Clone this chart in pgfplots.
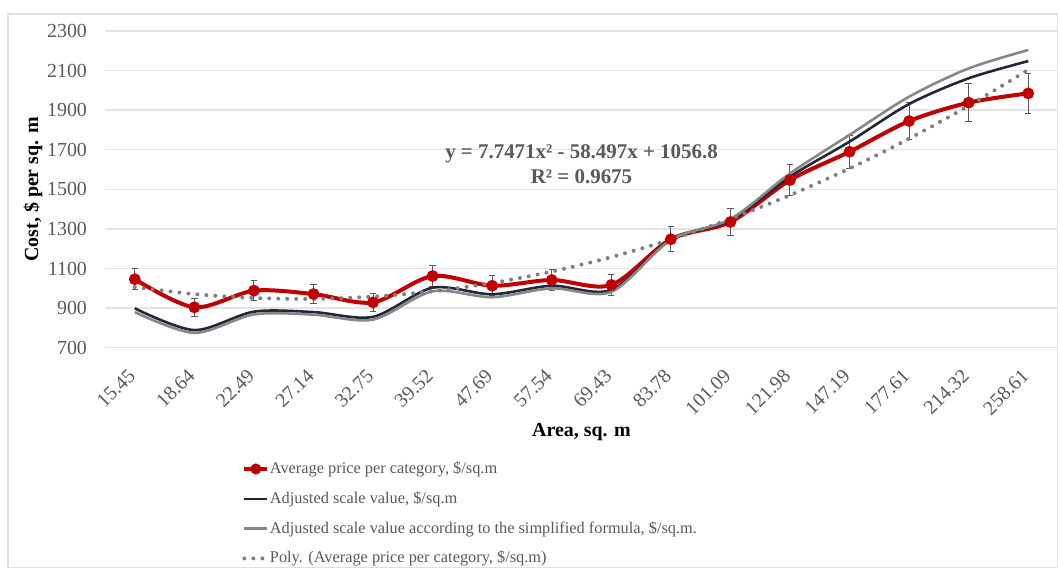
\documentclass[border=0pt]{standalone}
\usepackage{fontspec}
\setmainfont{Liberation Serif}
\usepackage{pgfplots}
\pgfplotsset{compat=1.18}
\definecolor{txt}{HTML}{595959}
\definecolor{gridc}{HTML}{E3E3E3}
\definecolor{redc}{HTML}{C00000}
\definecolor{navy}{HTML}{1E2838}
\definecolor{grayc}{HTML}{878787}
\definecolor{dotc}{HTML}{7F7F7F}
\definecolor{framec}{HTML}{E0E0E0}
\begin{document}
\fontsize{10}{12}\selectfont
\begin{tikzpicture}
\path[use as bounding box] (-52.5bp,173.85bp) rectangle (476.5bp,-110.15bp);
\draw[framec, line width=0.6bp] (-48.5bp,166.85bp) rectangle (476.2bp,-109.9bp);
\begin{axis}[
  at={(0,0)}, anchor=south west,
  scale only axis, width=476.5bp, height=158.35bp,
  xmin=-0.5, xmax=15.5, ymin=700, ymax=2300,
  ytick={700,900,...,2300},
  xtick={0,...,15},
  xticklabels={15.45,18.64,22.49,27.14,32.75,39.52,47.69,57.54,69.43,83.78,101.09,121.98,147.19,177.61,214.32,258.61},
  /pgf/number format/assume math mode=true,
  /pgf/number format/1000 sep={},
  tick label style={font=\fontsize{10}{12}\selectfont, text=txt},
  x tick label style={yshift=-10bp, xshift=1bp, rotate=45, anchor=east},
  y tick label style={xshift=-5.5bp},
  axis line style={draw=none},
  major tick length=0pt,
  ymajorgrids, grid style={gridc, line width=0.7bp},
  xlabel={\textbf{Area, sq. m}},
  ylabel={\textbf{Cost, \$ per sq. m}},
  label style={font=\fontsize{10.5}{12}\selectfont, text=txt},
  every axis x label/.style={at={(axis description cs:0.5,0)}, anchor=center, yshift=-42bp},
  every axis y label/.style={at={(axis description cs:0,0.5)}, xshift=-36bp, anchor=center, rotate=90},
  legend style={at={(axis description cs:0.1437,-0.352)}, anchor=north west, draw=none, fill=none,
    font=\fontsize{8.2}{10}\selectfont, text=txt, row sep=5.5bp, inner sep=0pt,
    nodes={inner xsep=0.3bp, inner ysep=1bp},
    /tikz/every even column/.append style={column sep=0pt}},
  legend cell align=left,
  legend image code/.code={\draw[#1] (0bp,0bp) -- (11.5bp,0bp);},
  clip=false,
]
% Average price per category
\addplot[redc, line width=2bp, smooth, tension=0.5, mark=*, mark size=1.9bp, mark options={solid, fill=redc, draw=redc},
  legend image code/.code={\draw[redc, line width=2bp] (0bp,0bp) -- (11.5bp,0bp); \fill[redc] (5.75bp,0bp) circle (1.7bp);},
  error bars/.cd, y dir=both, y explicit, error bar style={txt, line width=0.5bp}, error mark options={rotate=90, mark size=1.6bp, txt, line width=0.5bp}]
 coordinates {
 (0,1046) +- (0,52.3)
 (1,904) +- (0,45.2)
 (2,988) +- (0,49.4)
 (3,971) +- (0,48.6)
 (4,929) +- (0,46.5)
 (5,1062) +- (0,53.1)
 (6,1013) +- (0,50.7)
 (7,1042) +- (0,52.1)
 (8,1017) +- (0,50.9)
 (9,1248) +- (0,62.4)
 (10,1335) +- (0,66.8)
 (11,1547) +- (0,77.4)
 (12,1690) +- (0,84.5)
 (13,1845) +- (0,92.3)
 (14,1938) +- (0,96.9)
 (15,1985) +- (0,99.3)
 };
\addlegendentry{Average price per category, \$/sq.m}
% Adjusted scale value
\addplot[navy, line width=1.3bp, smooth, tension=0.5] coordinates {
 (0,899) (1,789) (2,882) (3,880) (4,856) (5,1003) (6,970) (7,1013) (8,992) (9,1245) (10,1345) (11,1564) (12,1741) (13,1931) (14,2061) (15,2148)
};
\addlegendentry{Adjusted scale value, \$/sq.m}
% Simplified formula
\addplot[grayc, line width=1.3bp, smooth, tension=0.5] coordinates {
 (0,880) (1,775) (2,868) (3,867) (4,842) (5,985) (6,955) (7,1000) (8,982) (9,1245) (10,1350) (11,1580) (12,1775) (13,1968) (14,2111) (15,2204)
};
\addlegendentry{Adjusted scale value according to the simplified formula, \$/sq.m.}
% Poly trendline
\addplot[dotc, line width=2bp, line cap=round, dash pattern=on 0bp off 4.5bp, smooth, tension=0.5] coordinates {
 (0,1006.05) (1,970.79) (2,951.03) (3,946.77) (4,957.99) (5,984.71) (6,1026.93) (7,1084.64) (8,1157.84) (9,1246.54) (10,1350.73) (11,1470.42) (12,1605.60) (13,1756.27) (14,1922.44) (15,2104.11)
};
\addlegendentry{Poly. (Average price per category, \$/sq.m)}
\node[text=txt, font=\bfseries\fontsize{10.5}{12.5}\selectfont, align=center] at (axis cs:7.5,1628) {y = 7.7471x² - 58.497x + 1056.8\\R² = 0.9675};
\end{axis}
\end{tikzpicture}
\end{document}
